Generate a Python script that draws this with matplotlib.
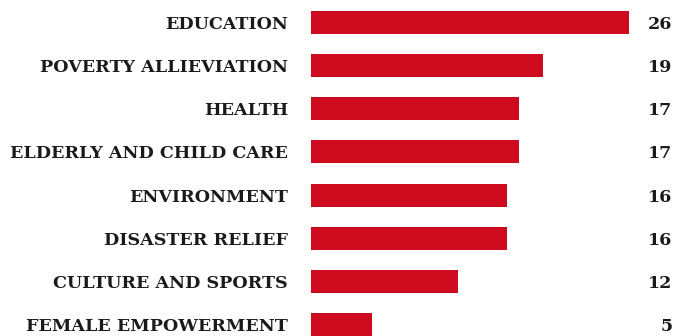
import numpy as np
import matplotlib
matplotlib.use("Agg")
import matplotlib.pyplot as plt
import matplotlib.transforms as mtransforms

# data
categories = ["EDUCATION", "POVERTY ALLIEVIATION", "HEALTH", "ELDERLY AND CHILD CARE",
              "ENVIRONMENT", "DISASTER RELIEF", "CULTURE AND SPORTS", "FEMALE EMPOWERMENT"]
counts = [26, 19, 17, 17, 16, 16, 12, 5]

bar_color = "#CE0A1F"
text_color = "#1A1A1A"

W, H = 674, 336
fig = plt.figure(figsize=(W / 100, H / 100), dpi=100)
ax = fig.add_axes([311 / W, 0, 318 / W, 1])

y = np.arange(len(categories))
ax.barh(y, counts, height=0.533, color=bar_color)
ax.set_xlim(0, 26)
ax.set_ylim(7.267, -0.5216)

ax.set_yticks(y)
ax.set_yticklabels(categories, fontfamily="DejaVu Serif", fontweight="bold",
                   fontsize=12.6, color=text_color)
ax.tick_params(axis="y", length=0, pad=16.5)
ax.set_xticks([])
for s in ax.spines.values():
    s.set_visible(False)

# value labels right-aligned at the right edge of the figure
trans = mtransforms.blended_transform_factory(fig.transFigure, ax.transData)
for yi, v in zip(y, counts):
    ax.text(672.5 / W, yi, str(v), transform=trans, ha="right", va="center_baseline",
            fontfamily="DejaVu Serif", fontweight="bold", fontsize=12.6, color=text_color)

fig.savefig("out.png", dpi=100)
